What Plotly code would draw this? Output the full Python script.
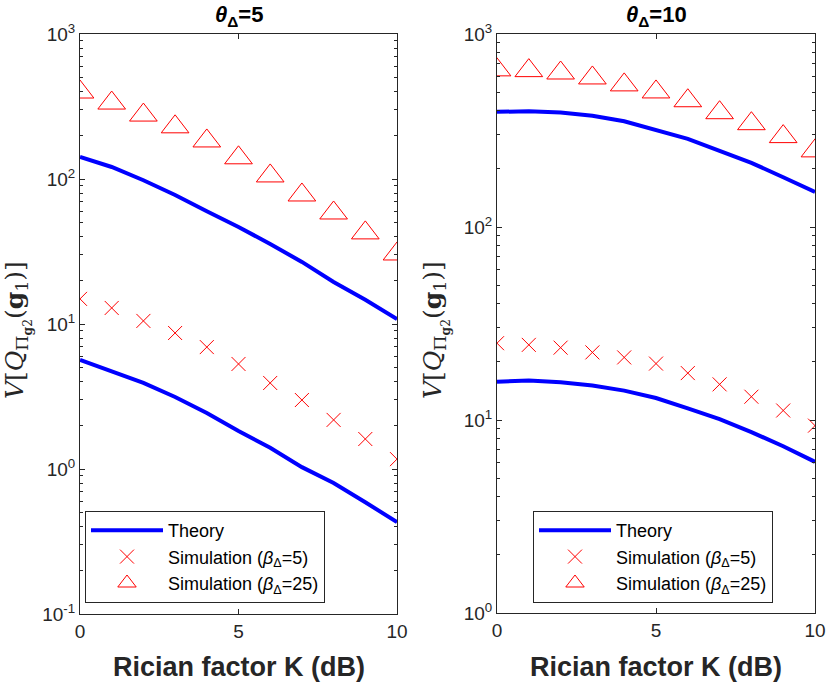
import plotly.graph_objects as go

K_sim = [0, 1, 2, 3, 4, 5, 6, 7, 8, 9, 10]
K_theory = [0, 1, 2, 3, 4, 5, 6, 7, 8, 9, 10]

# theta = 5 panel
theory_b25_t5 = [142, 121, 98, 77.6, 60, 46.7, 35.6, 26.8, 19.5, 14.7, 10.8]
theory_b5_t5 = [5.65, 4.74, 3.92, 3.14, 2.43, 1.83, 1.40, 1.03, 0.80, 0.59, 0.43]
sim_b5_t5 = [14.9, 12.9, 10.5, 8.67, 6.93, 5.3, 3.92, 2.99, 2.18, 1.61, 1.17]
sim_b25_t5 = [398, 334, 276, 229, 183, 140, 105, 77.6, 58.3, 42.5, 30.4]

# theta = 10 panel
theory_b25_t10 = [395, 398, 392, 377, 353, 319, 286, 248, 215, 181, 152]
theory_b5_t10 = [15.8, 16.0, 15.7, 15.1, 14.2, 13.0, 11.5, 10.1, 8.66, 7.31, 6.07]
sim_b5_t10 = [25.0, 24.5, 23.7, 22.4, 21.1, 19.6, 17.5, 15.3, 13.2, 11.2, 9.35]
sim_b25_t10 = [652, 646, 628, 592, 545, 501, 451, 391, 343, 294, 248]

titles = ["<b><i>θ</i><sub>Δ</sub>=5</b>", "<b><i>θ</i><sub>Δ</sub>=10</b>"]
legend_names = ["Theory", "Simulation (<i>β</i><sub>Δ</sub>=5)", "Simulation (<i>β</i><sub>Δ</sub>=25)"]
xtitle = "<b>Rician factor K (dB)</b>"
ylabel = "<i>V</i>[<i>Q</i><sub>Π<sub><b>g</b>2</sub></sub>(<b>g</b><sub>1</sub>)]"
xtick_vals = [0, 5, 10]
ytick_left = [0.1, 1, 10, 100, 1000]
ytick_left_text = ["10<sup>-1</sup>", "10<sup>0</sup>", "10<sup>1</sup>", "10<sup>2</sup>", "10<sup>3</sup>"]
ytick_right = [1, 10, 100, 1000]
ytick_right_text = ["10<sup>0</sup>", "10<sup>1</sup>", "10<sup>2</sup>", "10<sup>3</sup>"]

BLUE = "rgb(0,0,255)"
RED = "rgb(255,0,0)"
AX = "#262626"
FONT = "Liberation Sans, Arial, sans-serif"

W, H = 830, 684


def px(x):
    return x / W


def py(y):
    return 1 - y / H


L_DOM = [px(80), px(397)]
R_DOM = [px(497), px(815)]
Y_DOM_L = [py(614), py(34)]
Y_DOM_R = [py(613), py(34)]

fig = go.Figure()

panels = [
    dict(xa="x", ya="y", leg="legend", th=[theory_b25_t5, theory_b5_t5], s5=sim_b5_t5, s25=sim_b25_t5),
    dict(xa="x2", ya="y2", leg="legend2", th=[theory_b25_t10, theory_b5_t10], s5=sim_b5_t10, s25=sim_b25_t10),
]

for p in panels:
    for i, th in enumerate(p["th"]):
        fig.add_trace(go.Scatter(
            x=K_theory, y=th, mode="lines", line=dict(color=BLUE, width=4),
            name=legend_names[0], showlegend=(i == 0), legend=p["leg"],
            xaxis=p["xa"], yaxis=p["ya"]))
    fig.add_trace(go.Scatter(
        x=K_sim, y=p["s5"], mode="markers",
        marker=dict(symbol="x-thin-open", size=14, color=RED, line=dict(color=RED, width=1)),
        name=legend_names[1], legend=p["leg"], xaxis=p["xa"], yaxis=p["ya"]))
    fig.add_trace(go.Scatter(
        x=K_sim, y=p["s25"], mode="markers",
        marker=dict(symbol="triangle-up-open", size=24, color=RED, line=dict(color=RED, width=1)),
        name=legend_names[2], legend=p["leg"], xaxis=p["xa"], yaxis=p["ya"]))


def minor_vals(lo, hi):
    vals = []
    for e in range(lo, hi):
        for m in range(2, 10):
            vals.append(m * 10 ** e)
    return vals

xcommon = dict(range=[0, 10], tickvals=xtick_vals, ticks="inside", ticklen=5, tickcolor=AX,
               showline=True, linecolor=AX, linewidth=1, mirror="ticks", showgrid=False,
               zeroline=False, automargin=False, tickfont=dict(family=FONT, size=19, color=AX))
ycommon = dict(type="log", ticks="inside", ticklen=5, tickcolor=AX,
               showline=True, linecolor=AX, linewidth=1, mirror="ticks", showgrid=False,
               zeroline=False, automargin=False, tickfont=dict(family=FONT, size=19, color=AX))

legend_common = dict(y=py(511), xanchor="left", yanchor="top", bgcolor="white",
                     bordercolor=AX, borderwidth=1, font=dict(family=FONT, size=18, color="black"),
                     itemwidth=72, tracegroupgap=0)

annotations = []
for dom, title in [(L_DOM, titles[0]), (R_DOM, titles[1])]:
    cx = (dom[0] + dom[1]) / 2
    annotations.append(dict(text=title, x=cx, y=py(16), xref="paper", yref="paper",
                            showarrow=False, font=dict(family=FONT, size=22, color="black"),
                            xanchor="center", yanchor="middle"))
    annotations.append(dict(text=xtitle, x=cx, y=py(667), xref="paper", yref="paper",
                            showarrow=False, font=dict(family=FONT, size=27, color=AX),
                            xanchor="center", yanchor="middle"))
for xpos in [18, 436]:
    annotations.append(dict(text=ylabel, x=px(xpos), y=py(330), xref="paper", yref="paper", textangle=-90,
                            showarrow=False, font=dict(family="DejaVu Serif, serif", size=25, color=AX),
                            xanchor="center", yanchor="middle"))

fig.update_layout(
    width=W, height=H,
    margin=dict(l=0, r=0, t=0, b=0),
    paper_bgcolor="white", plot_bgcolor="white",
    hovermode=False,
    xaxis=dict(domain=L_DOM, anchor="y", **xcommon),
    xaxis2=dict(domain=R_DOM, anchor="y2", **xcommon),
    yaxis=dict(domain=Y_DOM_L, anchor="x", range=[-1, 3], tickvals=ytick_left, ticktext=ytick_left_text,
               minor=dict(tickvals=minor_vals(-1, 3), ticks="inside", ticklen=3, tickcolor=AX), **ycommon),
    yaxis2=dict(domain=Y_DOM_R, anchor="x2", range=[0, 3], tickvals=ytick_right, ticktext=ytick_right_text,
                minor=dict(tickvals=minor_vals(0, 3), ticks="inside", ticklen=3, tickcolor=AX), **ycommon),
    legend=dict(x=px(85), **legend_common),
    legend2=dict(x=px(533), **legend_common),
    annotations=annotations,
)

# remove the browser's default 8px body margin so the figure fills the window exactly
fig.write_html("out.html", config={"displayModeBar": False},
               post_script="document.body.style.margin='0';document.body.style.overflow='hidden';")
